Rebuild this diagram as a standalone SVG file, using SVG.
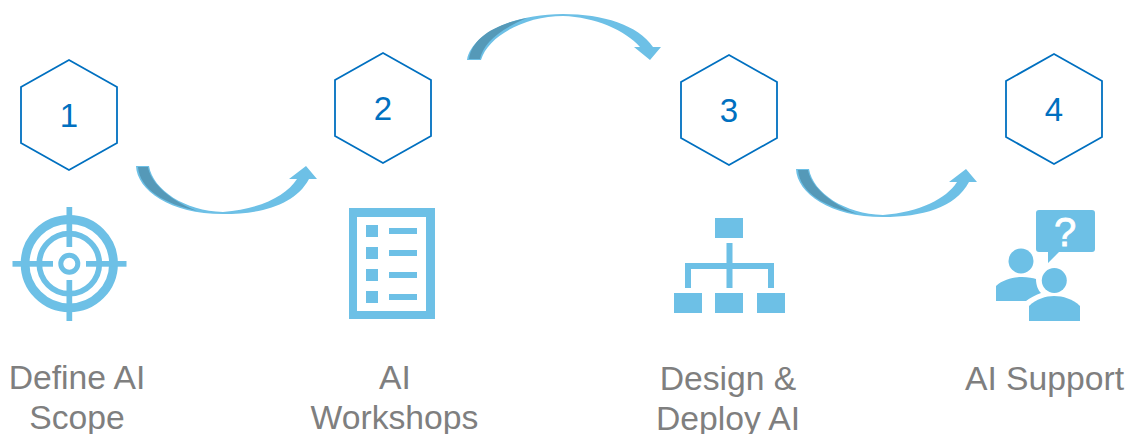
<svg xmlns="http://www.w3.org/2000/svg" width="1132" height="434" viewBox="0 0 1132 434">
<style>
.hex{fill:#fff;stroke:#0070c0;stroke-width:1.8}
.num{font:33px "Liberation Sans",Arial,sans-serif;fill:#0070c0;text-anchor:middle}
.lbl{font:33.7px "Liberation Sans",Arial,sans-serif;fill:#7f7f7f;text-anchor:middle}
.ic{fill:#6dc0e6}
.ring{fill:none;stroke:#6dc0e6}
.dark{fill:#5599b8}
</style>
<rect width="1132" height="434" fill="#fff"/>
<g id="connectors">
<g id="arrow-1-2">
<path class="ic" d="M136,166 C137,190 170,214 223,214 C262,214 295,205 309,179 L317,179 L306,166 L289,179 L297,179 C286,196 260,209 223,212 C185,211 153,190 149,166 Z"/>
<path class="dark" d="M138,167 L148,167 C150,180 165,198 197,211 C165,204 140,190 138,167 Z"/>
</g>
<g id="arrow-2-3">
<path class="ic" d="M467,60 C471,36 510,14 563,14 C603,14 638,25 653,47 L661,47 L650,60 L634,47 L640,47 C625,30 595,17 563,16 C525,16 488,36 481,60 Z"/>
<path class="dark" d="M469,59 L480,59 C483,44 498,30 527,18 C495,24 472,38 469,59 Z"/>
</g>
<g id="arrow-3-4">
<path class="ic" d="M796,169 C797,193 830,217 883,217 C922,217 955,208 969,182 L977,182 L966,169 L949,182 L957,182 C946,199 920,212 883,215 C845,214 813,193 809,169 Z"/>
<path class="dark" d="M798,170 L808,170 C810,183 825,201 857,214 C825,207 800,193 798,170 Z"/>
</g>
</g>
<g id="node-1">
<polygon class="hex" points="69,60 117,87 117,143 69,170 21,143 21,87"/>
<text class="num" x="69" y="127">1</text>
<g id="icon-target">
<circle class="ring" cx="69.300" cy="263.700" r="44.200" stroke-width="8.800"/>
<circle class="ring" cx="69.300" cy="263.700" r="30" stroke-width="5.700"/>
<circle class="ring" cx="69.300" cy="263.700" r="8.500" stroke-width="5"/>
<rect class="ic" x="66.500" y="207" width="5.700" height="40"/>
<rect class="ic" x="66.500" y="280" width="5.700" height="41"/>
<rect class="ic" x="12.500" y="261" width="40.500" height="5.700"/>
<rect class="ic" x="86" y="261" width="40.500" height="5.700"/>
</g>
<text class="lbl" x="77" y="389">Define AI</text>
<text class="lbl" x="77" y="429">Scope</text>
</g>
<g id="node-2">
<polygon class="hex" points="383,53 431,80 431,136 383,163 335,136 335,80"/>
<text class="num" x="383" y="120">2</text>
<g id="icon-list">
<path class="ic" fill-rule="evenodd" d="M349,208 H435 V319 H349 Z M357,217 V311 H426 V217 Z"/>
<rect class="ic" x="366" y="225" width="12" height="12"/>
<rect class="ic" x="366" y="247" width="12" height="12"/>
<rect class="ic" x="366" y="269" width="12" height="12"/>
<rect class="ic" x="366" y="291" width="12" height="12"/>
<rect class="ic" x="389" y="228" width="28" height="6"/>
<rect class="ic" x="389" y="250" width="28" height="6"/>
<rect class="ic" x="389" y="272" width="28" height="6"/>
<rect class="ic" x="389" y="294" width="28" height="6"/>
</g>
<text class="lbl" x="395" y="389">AI</text>
<text class="lbl" x="394.500" y="429">Workshops</text>
</g>
<g id="node-3">
<polygon class="hex" points="729,55 777,82 777,138 729,165 681,138 681,82"/>
<text class="num" x="729" y="122">3</text>
<g id="icon-org">
<rect class="ic" x="715" y="218" width="28" height="20"/>
<path class="ic" d="M726.500,243 H732.500 V263 H774 V288 H768 V269 H732.500 V288 H726.500 V269 H691 V288 H685 V263 H726.500 Z"/>
<rect class="ic" x="674" y="293" width="28" height="20"/>
<rect class="ic" x="715" y="293" width="28" height="20"/>
<rect class="ic" x="757" y="293" width="28" height="20"/>
</g>
<text class="lbl" x="728" y="390">Design &amp;</text>
<text class="lbl" x="728" y="430">Deploy AI</text>
</g>
<g id="node-4">
<polygon class="hex" points="1054,54 1102,81 1102,137 1054,164 1006,137 1006,81"/>
<text class="num" x="1054" y="121">4</text>
<g id="icon-people">
<path class="ic" d="M1039,210 H1092 Q1095,210 1095,213 V249 Q1095,252 1092,252 H1059 L1048,263 V252 H1039 Q1036,252 1036,249 V213 Q1036,210 1039,210 Z"/>
<text x="1065" y="246" font-family="Liberation Sans, Arial, sans-serif" font-size="40" fill="#fff" stroke="#fff" stroke-width="0.800" text-anchor="middle">?</text>
<circle class="ic" cx="1021" cy="261" r="12.500"/>
<circle class="ic" cx="1054.300" cy="280.500" r="12.500"/>
<path class="ic" d="M996,301 V286 C1003,279 1015,277 1022,277 C1028,277 1033,278 1036,279 C1036,285 1038,290 1041,293 C1035,295 1030,298 1026,301 Z"/>
<path class="ic" d="M1029,321 V306 C1036,299 1046,296 1054,296 C1063,296 1073,299 1080,306 V321 Z"/>
</g>
<text class="lbl" x="1044.500" y="390">AI Support</text>
</g>
</svg>
